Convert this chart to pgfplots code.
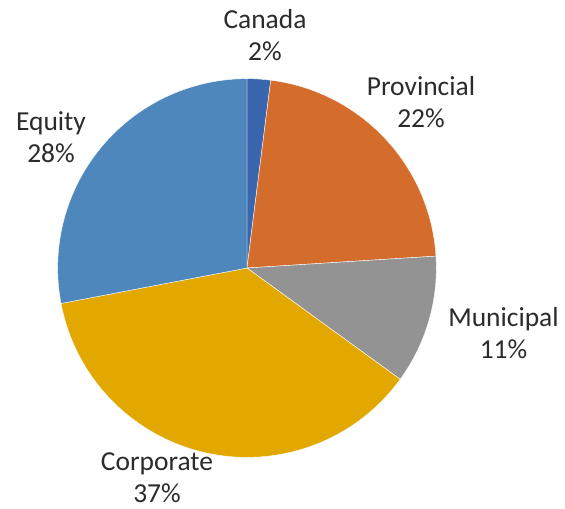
\documentclass[border=0pt]{standalone}
\usepackage{fontspec}
\setmainfont{Carlito}
\usepackage{pgfplots}
\usepackage{pgfplotstable}
\pgfplotsset{compat=1.18}

\definecolor{cCanada}{HTML}{3A66B0}
\definecolor{cProv}{HTML}{D46D2B}
\definecolor{cMuni}{HTML}{939393}
\definecolor{cCorp}{HTML}{E2A800}
\definecolor{cEquity}{HTML}{4E87BB}
\definecolor{txt}{HTML}{2B2B2B}

% share in %, start and end angle (clockwise from top), colour index
\pgfplotstableread{
x   y   pct start  end    idx
247 240 2   90     82.8   0
247 240 22  82.8   3.6    1
247 240 11  3.6    -36    2
247 240 37  -36    -169.2 3
247 240 28  -169.2 -270   4
}\slices

\pgfdeclareplotmark{nothing}{}

\begin{document}
\begin{tikzpicture}
\begin{axis}[name=ax,scale only axis,width=423.75pt,height=381pt,
xmin=0,xmax=565,ymin=0,ymax=508,hide axis,clip=false]
\addplot[scatter,only marks,mark=nothing,
visualization depends on={\thisrow{start}\as\sa},
visualization depends on={\thisrow{end}\as\ea},
visualization depends on={\thisrow{idx}\as\ci},
scatter/@pre marker code/.code={\pgfkeys{/pgf/fpu=false}%
\pgfmathtruncatemacro\ii{\ci}%
\ifcase\ii\colorlet{sc}{cCanada}\or\colorlet{sc}{cProv}\or
\colorlet{sc}{cMuni}\or\colorlet{sc}{cCorp}\else\colorlet{sc}{cEquity}\fi
\fill[sc,draw=white,line width=0.3pt] (0,0) -- (\sa:142pt)
arc[start angle=\sa,end angle=\ea,radius=142pt] -- cycle;},
scatter/@post marker code/.code={}]
table[x=x,y=y] {\slices};
\begin{scope}[every node/.style={align=center,text=txt,inner sep=0pt,
font=\fontsize{20.6}{24}\selectfont}]
\node at (axis cs:265,473) {Canada\\2\%};
\node at (axis cs:421,406) {Provincial\\22\%};
\node at (axis cs:503.5,175) {Municipal\\11\%};
\node at (axis cs:157,30.5) {Corporate\\37\%};
\node at (axis cs:51,370.5) {Equity\\28\%};
\end{scope}
\end{axis}
\pgfresetboundingbox
\path (ax.south west) rectangle (ax.north east);
\end{tikzpicture}
\end{document}
